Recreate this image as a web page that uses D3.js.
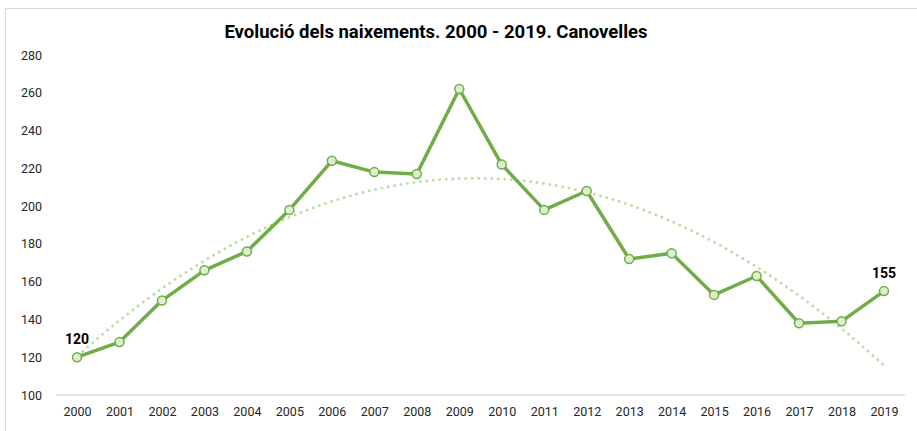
<!DOCTYPE html>
<html><head><meta charset="utf-8">
<script src="https://cdn.jsdelivr.net/npm/d3@7"></script>
<style>body{margin:0;background:#fff}svg{display:block}</style>
</head><body><svg id="c" width="917" height="431"></svg>
<script>
const years = [2000,2001,2002,2003,2004,2005,2006,2007,2008,2009,2010,2011,2012,2013,2014,2015,2016,2017,2018,2019];
const births = [120,128,150,166,176,198,224,218,217,262,222,198,208,172,175,153,163,138,139,155];
const yTicks = [100,120,140,160,180,200,220,240,260,280];
const labelledYears = [2000,2019];
const title = "Evolució dels naixements. 2000 - 2019. Canovelles";

const svg = d3.select("#c");
const font = "Roboto, 'DejaVu Sans', sans-serif";
// outer frame
svg.append("path").attr("d","M5.5,431 V8.5 H917").attr("fill","none").attr("stroke","#d9d9d9").attr("stroke-width",1);

const x = d3.scalePoint().domain(years).range([77,884]);
const y = d3.scaleLinear().domain([100,280]).range([395,55]);

// axes
const xAxis = svg.append("g").attr("transform","translate(0,395)")
  .call(d3.axisBottom(x).tickSize(0).tickPadding(12));
xAxis.select(".domain").attr("d","M56,0H905").attr("stroke","#d9d9d9").attr("stroke-width",1.5);
xAxis.selectAll("text").attr("font-family",font).attr("font-size",12.5).attr("fill","#262626");

const yAxis = svg.append("g").attr("transform","translate(42,0)")
  .call(d3.axisLeft(y).tickValues(yTicks).tickSize(0).tickPadding(0));
yAxis.select(".domain").remove();
yAxis.selectAll("text").attr("font-family",font).attr("font-size",12.5).attr("fill","#262626");

// polynomial (order 2) trendline via least squares
const n = years.length;
const ts = years.map((d,i)=>i+1);
let S = [0,0,0,0,0], T=[0,0,0];
ts.forEach((t,i)=>{ for(let k=0;k<5;k++) S[k]+=Math.pow(t,k); for(let k=0;k<3;k++) T[k]+=births[i]*Math.pow(t,k); });
const M = [[S[0],S[1],S[2],T[0]],[S[1],S[2],S[3],T[1]],[S[2],S[3],S[4],T[2]]];
for(let i=0;i<3;i++){ for(let j=i+1;j<3;j++){ const f=M[j][i]/M[i][i]; for(let k=i;k<4;k++) M[j][k]-=f*M[i][k]; } }
const c=[0,0,0];
for(let i=2;i>=0;i--){ let s=M[i][3]; for(let k=i+1;k<3;k++) s-=M[i][k]*c[k]; c[i]=s/M[i][i]; }
const trend = d3.range(0, n-1+0.001, 0.1).map(u=>{const t=u+1; return [u, c[0]+c[1]*t+c[2]*t*t];});
const xi = d3.scaleLinear().domain([0,n-1]).range([77,884]);
svg.append("path").datum(trend)
  .attr("d", d3.line().x(d=>xi(d[0])).y(d=>y(d[1])))
  .attr("fill","none").attr("stroke","#b7dca0").attr("stroke-width",2.5).attr("stroke-dasharray","2.5,4");

// main line
svg.append("path").datum(births)
  .attr("d", d3.line().x((d,i)=>x(years[i])).y(d=>y(d)))
  .attr("fill","none").attr("stroke","#70ad47").attr("stroke-width",3.5).attr("stroke-linejoin","round");

svg.append("g").selectAll("circle").data(births).join("circle")
  .attr("cx",(d,i)=>x(years[i])).attr("cy",d=>y(d)).attr("r",4.5)
  .attr("fill","#dcefcf").attr("stroke","#70ad47").attr("stroke-width",1.5);

// data labels
svg.append("g").selectAll("text").data(labelledYears).join("text")
  .attr("x",d=>x(d)).attr("y",d=>y(births[years.indexOf(d)])-13)
  .attr("text-anchor","middle").attr("font-family",font).attr("font-weight","bold").attr("font-size",14).attr("fill","#000")
  .text(d=>births[years.indexOf(d)]);

// title
svg.append("text").attr("x",436).attr("y",38).attr("text-anchor","middle")
  .attr("font-family",font).attr("font-weight","bold").attr("font-size",18.5).attr("fill","#000").text(title);
</script></body></html>
